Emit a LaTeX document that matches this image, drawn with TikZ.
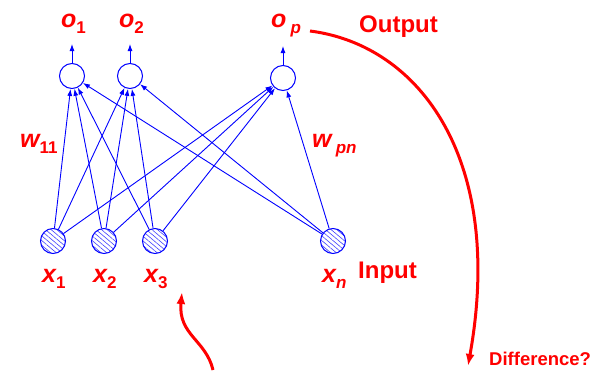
\documentclass[tikz,border=0pt]{standalone}
\usepackage{fontspec}
\setmainfont{Liberation Sans}
\usetikzlibrary{arrows.meta,patterns.meta}
\newcommand\lsub[1]{\raisebox{-6.5pt}{\fontsize{17}{17}\selectfont #1}}
\begin{document}
\begin{tikzpicture}[x=1pt,y=-1pt,
 neuron/.style={circle,draw=blue,line width=1pt,minimum size=25pt,inner sep=0pt},
 innode/.style={neuron,pattern={Lines[angle=-40,distance=3.6pt,line width=0.6pt]},pattern color=blue!75},
 conn/.style={blue,line width=0.9pt,-{Latex[length=7pt,width=5pt]}},
 lbl/.style={red,font=\fontsize{25}{25}\selectfont\bfseries\itshape,inner sep=0pt,anchor=base west},
 word/.style={red,font=\fontsize{24}{24}\selectfont\bfseries,inner sep=0pt,anchor=base west},
 redarrow/.style={red,line width=3pt,-{Latex[length=12pt,width=9pt]}}]
\useasboundingbox (0,0) rectangle (608,370);
% output neurons
\node[neuron] (o1) at (72,76) {};
\node[neuron] (o2) at (130,76) {};
\node[neuron] (op) at (283,78) {};
% input neurons
\node[innode] (x1) at (53,241) {};
\node[innode] (x2) at (104,241) {};
\node[innode] (x3) at (155,241) {};
\node[innode] (xn) at (333,241) {};
% connections
\foreach \i in {x1,x2,x3,xn}{
  \foreach \o in {o1,o2,op}{
    \draw[conn] (\i) -- (\o);
  }
}
% output arrows
\coordinate (t1) at (72,44);
\coordinate (t2) at (130,44);
\coordinate (tp) at (283,46);
\draw[conn] (o1) -- (t1);
\draw[conn] (o2) -- (t2);
\draw[conn] (op) -- (tp);
% labels
\node[lbl] (lo1) at (61,27) {o\lsub{\upshape 1}};
\node[lbl] (lo2) at (119,27) {o\lsub{\upshape 2}};
\node[lbl] (lop) at (271,27) {o\,\lsub{p}};
\node[word] (lout) at (359,32) {Output};
\node[lbl] (lw11) at (20,147) {w\lsub{\upshape 11}};
\node[lbl] (lwpn) at (312,147) {w\,\lsub{pn}};
\node[lbl] (lx1) at (42,282) {x\lsub{\upshape 1}};
\node[lbl] (lx2) at (93,282) {x\lsub{\upshape 2}};
\node[lbl] (lx3) at (144,282) {x\lsub{\upshape 3}};
\node[lbl] (lxn) at (322,282) {x\lsub{n}};
\node[word] (lin) at (358,278) {Input};
\node[red,font=\fontsize{18.5}{18.5}\selectfont\bfseries,inner sep=0pt,anchor=base west] (ldiff) at (489,365) {Difference?};
% red arrows
\coordinate (a1) at (310,31);
\coordinate (a2) at (468,366);
\draw[redarrow] (a1) .. controls (420,45) and (505,160) .. (a2);
\coordinate (b1) at (213,370);
\coordinate (b2) at (182,292);
\draw[redarrow] (b1) .. controls (206,340) and (178,335) .. (b2);
\end{tikzpicture}
\end{document}
